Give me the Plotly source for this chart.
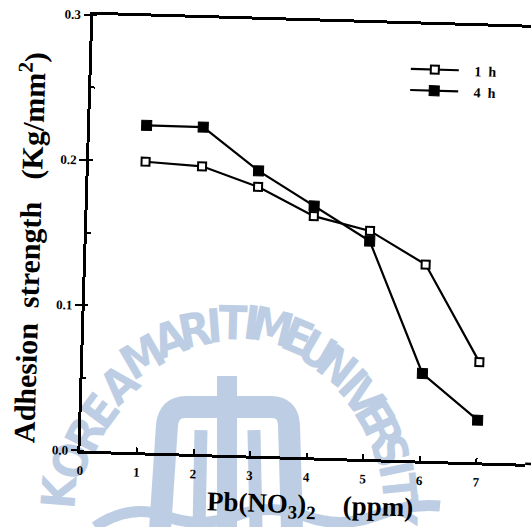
import math
import plotly.graph_objects as go

# Pb(NO3)2 concentration (ppm) and adhesion strength (Kg/mm^2)
ppm = [1, 2, 3, 4, 5, 6, 7]
strength_1h = [0.200, 0.198, 0.185, 0.166, 0.157, 0.135, 0.069]
strength_4h = [0.225, 0.225, 0.196, 0.173, 0.150, 0.060, 0.029]
series_names = ["1 h", "4 h"]
x_tick_vals = [0, 1, 2, 3, 4, 5, 6, 7]
y_tick_vals = [0.0, 0.1, 0.2, 0.3]
x_title = "Pb(NO<sub>3</sub>)<sub>2</sub>\u00a0\u00a0\u00a0\u00a0(ppm)"
y_title = "Adhesion\u00a0\u00a0strength\u00a0\u00a0\u00a0(Kg/mm<sup>2</sup>)"

W, H = 531, 527
ML, MR, MT, MB = 86, 0, 20, 71
X_MAX = (W - ML - MR) / 56.6

SERIF = "Liberation Serif, Times New Roman, serif"
NARROW = "Liberation Sans Narrow, DejaVu Sans Condensed, Liberation Sans, sans-serif"
MARK = "#bdcee4"
NB = "\u00a0"


def paper(px, py):
    """pixel position on the page -> paper coordinates"""
    return (px - ML) / (W - ML - MR), (H - MB - py) / (H - MT - MB)


def pt(px, py):
    x, y = paper(px, py)
    return f"{x:.4f},{y:.4f}"


def legend_label(name):
    return NB * 3 + name.replace(" ", NB * 2)


fig = go.Figure()

fig.add_trace(go.Scatter(
    x=ppm, y=strength_4h, name=legend_label(series_names[1]),
    mode="lines+markers",
    line=dict(color="black", width=2.2),
    marker=dict(symbol="square", size=10, color="black",
                line=dict(color="black", width=1)),
))
fig.add_trace(go.Scatter(
    x=ppm, y=strength_1h, name=legend_label(series_names[0]),
    mode="lines+markers",
    line=dict(color="black", width=2.2),
    marker=dict(symbol="square", size=8, color="white",
                line=dict(color="black", width=2)),
))

# --- university seal in the background ---------------------------------
letters = [
    ("K", 56, 492), ("O", 68, 460), ("R", 83, 433), ("E", 98, 409),
    ("A", 117, 382), ("M", 141, 354), ("A", 169, 336), ("R", 194, 327),
    ("I", 214, 323), ("T", 233, 320), ("I", 252, 320), ("M", 273, 324),
    ("E", 299, 334), ("U", 319, 348), ("N", 339, 364), ("I", 355, 381),
    ("V", 366, 396), ("E", 377, 414), ("R", 386, 432), ("S", 393, 450),
    ("I", 399, 469), ("T", 402, 488), ("Y", 403, 510),
]
cx, cy = 228, 505
shapes = []
for ch, px, py in letters:
    ang = math.degrees(math.atan2(py - cy, px - cx)) + 90
    x, y = paper(px, py)
    shapes.append(dict(
        type="rect", xref="paper", yref="paper",
        x0=x - 0.001, x1=x + 0.001, y0=y - 0.001, y1=y + 0.001,
        line=dict(width=0), fillcolor="rgba(0,0,0,0)", layer="below",
        label=dict(text=ch, textangle=ang, textposition="middle center",
                   font=dict(family=NARROW, size=47, color=MARK, weight="bold")),
    ))

seal_paths = [
    (f"M{pt(160, 530)} L{pt(167, 425)} Q{pt(169, 407)} {pt(186, 407)} "
     f"L{pt(271, 407)} Q{pt(288, 407)} {pt(289, 425)} L{pt(292, 530)}", 22),
    (f"M{pt(227, 376)} L{pt(227, 530)}", 20),
    (f"M{pt(201, 430)} L{pt(199, 530)}", 13),
    (f"M{pt(254, 430)} L{pt(256, 530)}", 13),
    (f"M{pt(95, 527)} Q{pt(130, 503)} {pt(165, 516)} T{pt(235, 516)} "
     f"T{pt(305, 516)} T{pt(375, 516)} T{pt(440, 506)}", 11),
]
for path, lw in seal_paths:
    shapes.append(dict(type="path", xref="paper", yref="paper", path=path,
                       line=dict(color=MARK, width=lw), layer="below"))

# continuation of the bottom axis line beyond the plotting area
shapes.append(dict(type="line", xref="paper", yref="paper",
                   x0=1.0, x1=1.06, y0=0, y1=0,
                   line=dict(color="black", width=2.5), layer="above"))

# axis titles
xt_x, xt_y = paper(317, 505)
yt_x, yt_y = paper(28, 255)
annotations = [
    dict(text=x_title, xref="paper", yref="paper", x=xt_x, y=xt_y,
         xanchor="center", yanchor="middle", showarrow=False,
         font=dict(family=SERIF, size=27, color="black", weight="bold")),
    dict(text=y_title, xref="paper", yref="paper", x=yt_x, y=yt_y,
         xanchor="center", yanchor="middle", showarrow=False, textangle=-90,
         font=dict(family=SERIF, size=30, color="black", weight="bold")),
]

fig.update_layout(
    width=W, height=H,
    margin=dict(l=ML, r=MR, t=MT, b=MB, pad=0),
    template="none",
    paper_bgcolor="white",
    plot_bgcolor="rgba(0,0,0,0)",
    showlegend=True,
    legend=dict(
        x=(400 - ML) / (W - ML), y=(H - MB - 49) / (H - MT - MB),
        xanchor="left", yanchor="top",
        traceorder="reversed", itemwidth=48,
        bgcolor="rgba(0,0,0,0)", borderwidth=0,
        font=dict(family=SERIF, size=14, color="black", weight="bold"),
    ),
    shapes=shapes,
    annotations=annotations,
    xaxis=dict(
        range=[0, X_MAX], tickmode="array", tickvals=x_tick_vals,
        ticks="inside", ticklen=5, tickwidth=1.5, tickcolor="black",
        showline=True, linecolor="black", linewidth=2.5, mirror=True,
        showgrid=False, zeroline=False, automargin=False,
        ticklabelstandoff=6,
        tickfont=dict(family=SERIF, size=13, color="black", weight="bold"),
    ),
    yaxis=dict(
        range=[0, 0.3], tickmode="array", tickvals=y_tick_vals,
        tickformat=".1f",
        ticks="outside", ticklen=7, tickwidth=1.5, tickcolor="black",
        minor=dict(dtick=0.05, ticks="inside", ticklen=4, tickwidth=1.5,
                   tickcolor="black", showgrid=False),
        showline=True, linecolor="black", linewidth=2.5,
        showgrid=False, zeroline=False, automargin=False,
        tickfont=dict(family=SERIF, size=13, color="black", weight="bold"),
    ),
)

# the printed figure sits slightly askew on the page
tilt_js = """
var gd = document.getElementById('{plot_id}');
var spin = 'rotate(1.7 265.5 263.5) ';
['.cartesianlayer', '.layer-above', '.legend', '.annotation'].forEach(function (sel) {
  gd.querySelectorAll(sel).forEach(function (el) {
    el.setAttribute('transform', spin + (el.getAttribute('transform') || ''));
  });
});
"""

fig.write_html("out.html", post_script=tilt_js)
